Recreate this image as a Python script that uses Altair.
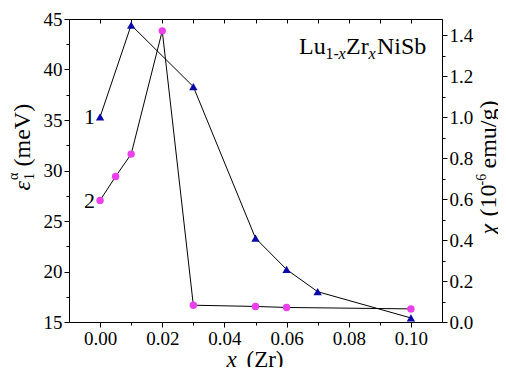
import altair as alt
import pandas as pd

# ---- data ----
x_eps = [0.00, 0.01, 0.03, 0.05, 0.06, 0.07, 0.10]
eps = [35.3, 44.4, 38.3, 23.3, 20.2, 18.0, 15.4]          # curve 1, left axis (meV)
x_chi = [0.00, 0.005, 0.01, 0.02, 0.03, 0.05, 0.06, 0.10]
chi = [0.594, 0.711, 0.820, 1.422, 0.082, 0.076, 0.071, 0.064]  # curve 2, right axis

x_major = [0.00, 0.02, 0.04, 0.06, 0.08, 0.10]
x_minor = [0.01, 0.03, 0.05, 0.07, 0.09]
x_all = [0.00, 0.01, 0.02, 0.03, 0.04, 0.05, 0.06, 0.07, 0.08, 0.09, 0.10]
eps_major = [15, 20, 25, 30, 35, 40, 45]
eps_minor = [17.5, 22.5, 27.5, 32.5, 37.5, 42.5]
chi_major = [0.0, 0.2, 0.4, 0.6, 0.8, 1.0, 1.2, 1.4]
chi_minor = [0.1, 0.3, 0.5, 0.7, 0.9, 1.1, 1.3]

x_domain = [-0.01, 0.11]
eps_domain = [15, 45]
chi_domain = [0, 1.48]

FONT = "Liberation Serif"
BLUE = "#0a0aa8"
MAGENTA = "#ea3fea"

df_eps = pd.DataFrame({"x": x_eps, "eps": eps})
df_chi = pd.DataFrame({"x": x_chi, "chi": chi})

xs = alt.Scale(domain=x_domain, nice=False, zero=False)
ys_eps = alt.Scale(domain=eps_domain, nice=False, zero=False)
ys_chi = alt.Scale(domain=chi_domain, nice=False, zero=False)

MAJ, MIN = 5, 3

bottom_axis = alt.Axis(orient="bottom", values=x_major, title=None, grid=False, format=".2f",
                       tickSize=MAJ, labelPadding=2, labelOverlap=False, labelFlush=False)
bottom_minor = alt.Axis(orient="bottom", values=x_minor, title=None, grid=False, labels=False,
                        domain=False, tickSize=MIN)
top_axis = alt.Axis(orient="top", values=x_all, title=None, grid=False, labels=False,
                    domain=False, tickSize=4, offset=-4)
left_axis = alt.Axis(orient="left", values=eps_major, title=None, grid=False, format="d",
                     tickSize=MAJ, labelPadding=2, labelOverlap=False, labelFlush=False)
left_minor = alt.Axis(orient="left", values=eps_minor, title=None, grid=False, labels=False,
                      domain=False, tickSize=MIN)
right_axis = alt.Axis(orient="right", values=chi_major, title=None, grid=False, format=".1f",
                      tickSize=MAJ, labelPadding=2, labelOverlap=False, labelFlush=False)
right_minor = alt.Axis(orient="right", values=chi_minor, title=None, grid=False, labels=False,
                       domain=False, tickSize=MIN)


def ghost(df, ycol, yscale, xaxis=None, yaxis=None):
    return alt.Chart(df).mark_point(opacity=0).encode(
        x=alt.X("x:Q", scale=xs, axis=xaxis),
        y=alt.Y(f"{ycol}:Q", scale=yscale, axis=yaxis),
    )


eps_line = alt.Chart(df_eps).mark_line(color="black", strokeWidth=1).encode(
    x=alt.X("x:Q", scale=xs, axis=bottom_axis),
    y=alt.Y("eps:Q", scale=ys_eps, axis=left_axis),
)
eps_pts = alt.Chart(df_eps).mark_point(shape="triangle-up", filled=True, color=BLUE, size=70, opacity=1).encode(
    x=alt.X("x:Q", scale=xs, axis=None),
    y=alt.Y("eps:Q", scale=ys_eps, axis=None),
)


# ---- text annotations (anchored in data space, offsets in px) ----
def txt(text, xv, yv, dx=0, dy=0, size=22, style="normal", align="left", baseline="alphabetic", angle=0):
    d = pd.DataFrame({"x": [xv], "eps": [yv], "t": [text]})
    m = alt.Chart(d).mark_text(
        font=FONT, fontSize=size, fontStyle=style, color="black", align=align,
        baseline=baseline, dx=dx, dy=dy, angle=angle,
    )
    return m.encode(
        x=alt.X("x:Q", scale=xs, axis=None),
        y=alt.Y("eps:Q", scale=ys_eps, axis=None),
        text="t:N",
    )


ann = [
    # curve labels
    txt("1", 0.0, 35.3, dx=-5, size=22, align="right", baseline="middle"),
    txt("2", 0.0, 27.0, dx=-5, size=22, align="right", baseline="middle"),
    # Lu1-xZrxNiSb
    txt("Lu", 0.064, 41.5, dx=0, size=24),
    txt("1-", 0.064, 41.5, dx=26.5, dy=5, size=16),
    txt("x", 0.064, 41.5, dx=39.5, dy=5, size=16, style="italic"),
    txt("Zr", 0.064, 41.5, dx=47, size=24),
    txt("x", 0.064, 41.5, dx=69.5, dy=5, size=16, style="italic"),
    txt("NiSb", 0.064, 41.5, dx=78, size=24),
    # x axis title
    txt("x", 0.05, 15, dx=-29, dy=45, size=23, style="italic"),
    txt("(Zr)", 0.05, 15, dx=-9, dy=45, size=23),
    # left axis title (rotated)
    txt("\u03b5", -0.01, 30, dx=-20, dy=-46, size=24, style="italic", baseline="middle", angle=270),
    txt("1", -0.01, 30, dx=-9.5, dy=-39, size=14, baseline="middle", angle=270),
    txt("\u03b1", -0.01, 30, dx=-9.5, dy=-55, size=14, baseline="middle", angle=270),
    txt("(meV)", -0.01, 30, dx=4, dy=-46, size=24, baseline="middle", angle=270),
    # right axis title (rotated)
    txt("\u03c7", 0.11, 30, dx=-64, dy=47, size=24, style="italic", baseline="middle", angle=270),
    txt("(10", 0.11, 30, dx=-46, dy=47, size=24, baseline="middle", angle=270),
    txt("-6", 0.11, 30, dx=-15, dy=40, size=14, baseline="middle", angle=270),
    txt("emu/g)", 0.11, 30, dx=2, dy=47, size=24, baseline="middle", angle=270),
]

eps_group = alt.layer(
    eps_line, eps_pts,
    ghost(df_eps, "eps", ys_eps, xaxis=top_axis),
    ghost(df_eps, "eps", ys_eps, xaxis=bottom_minor),
    ghost(df_eps, "eps", ys_eps, yaxis=left_minor),
    *ann,
).resolve_axis(x="independent", y="independent")

chi_line = alt.Chart(df_chi).mark_line(color="black", strokeWidth=1).encode(
    x=alt.X("x:Q", scale=xs, axis=None),
    y=alt.Y("chi:Q", scale=ys_chi, axis=right_axis),
)
chi_pts = alt.Chart(df_chi).mark_point(shape="circle", filled=True, color=MAGENTA, size=55, opacity=1).encode(
    x=alt.X("x:Q", scale=xs, axis=None),
    y=alt.Y("chi:Q", scale=ys_chi, axis=None),
)
chi_group = alt.layer(
    chi_line, chi_pts,
    ghost(df_chi, "chi", ys_chi, yaxis=right_minor),
).resolve_axis(x="independent", y="independent")

chart = alt.layer(eps_group, chi_group).resolve_scale(y="independent").resolve_axis(
    x="independent", y="independent"
).properties(
    width=373, height=303,
    autosize=alt.AutoSizeParams(type="none"),
    padding={"left": 61, "top": 11, "right": 56, "bottom": 45},
    background="white",
).configure_view(stroke="black", strokeWidth=1).configure_axis(
    labelFont=FONT, labelFontSize=19, labelColor="black",
    tickColor="black", domainColor="black", tickWidth=1, domainWidth=1,
)

chart.save("out.html", embed_options={"renderer": "svg", "actions": False})
